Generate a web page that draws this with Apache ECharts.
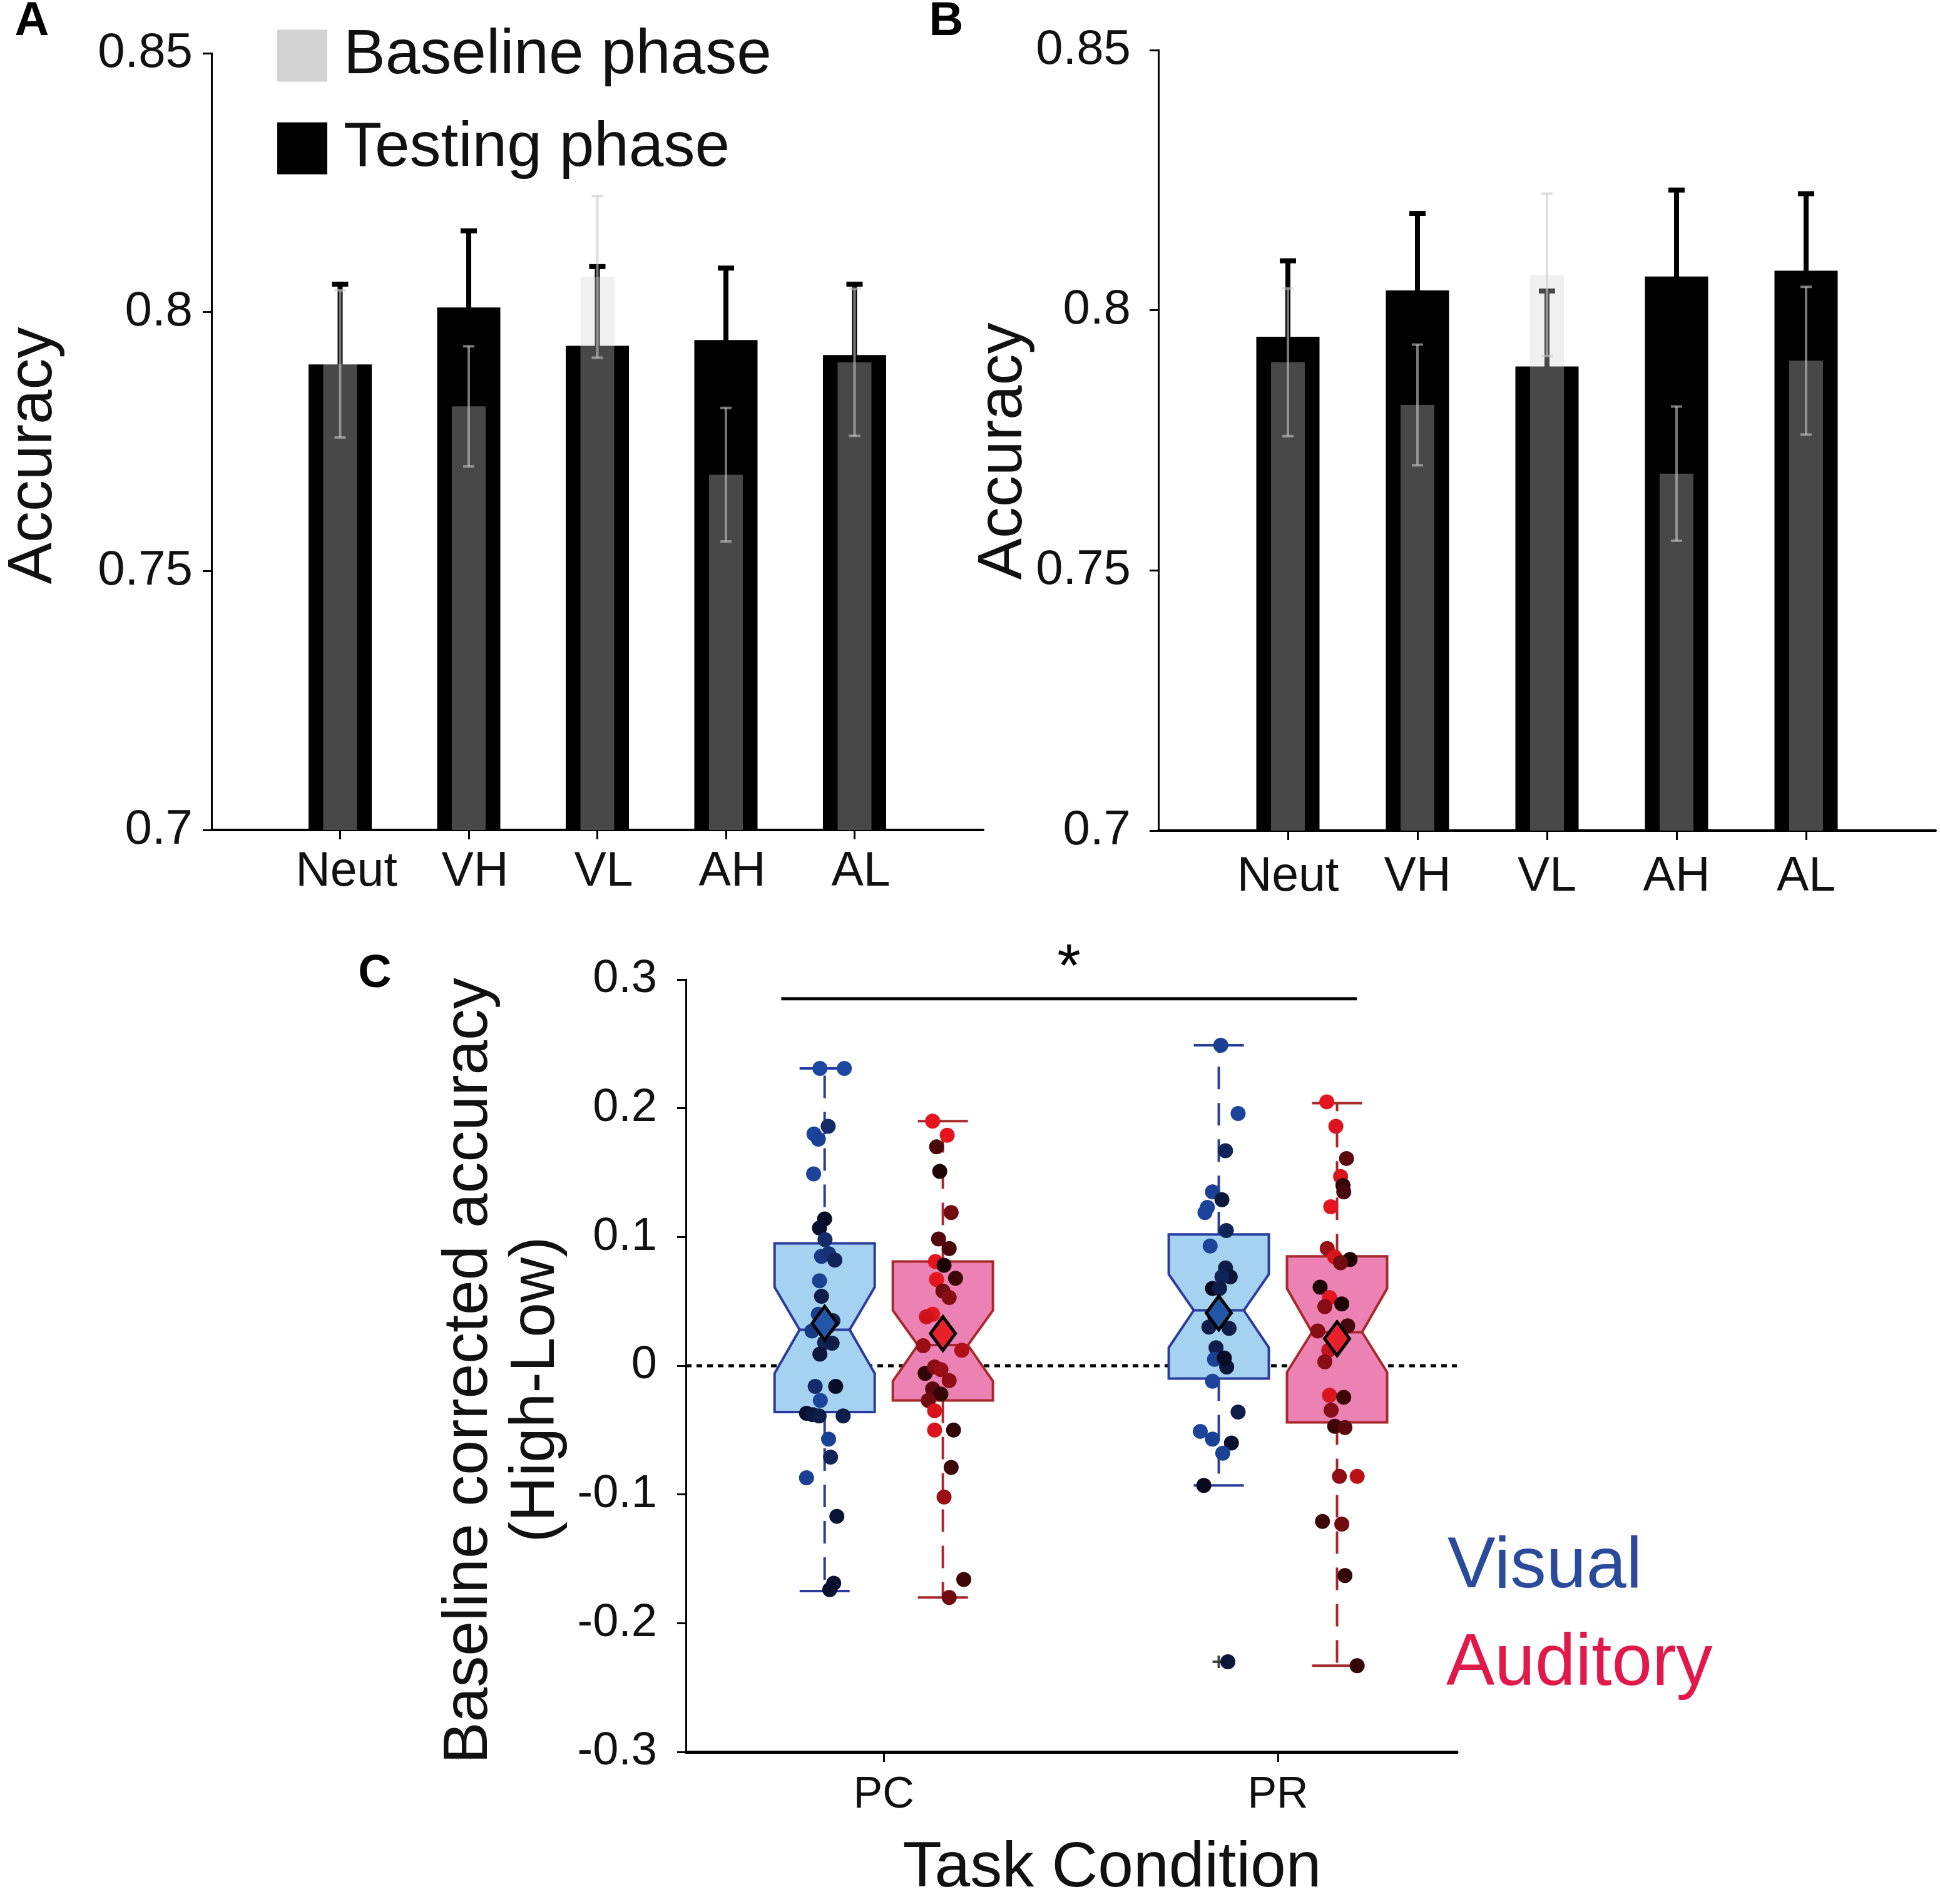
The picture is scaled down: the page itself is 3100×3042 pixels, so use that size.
<!DOCTYPE html>
<html><head><meta charset="utf-8">
<script src="https://cdn.jsdelivr.net/npm/echarts@6/dist/echarts.min.js"></script>
<style>html,body{margin:0;padding:0;background:#fff}#c{width:3100px;height:3042px}</style>
</head><body><div id="c"></div>
<script>
// ---------- Panels A & B data ----------
const conditions = ['Neut', 'VH', 'VL', 'AH', 'AL'];
const baselineMean = [0.7900, 0.7818, 0.8068, 0.7686, 0.7903];
const baselineErr = [0.0142, 0.0116, 0.0156, 0.0129, 0.0142];
const testingMeanA = [0.7899, 0.8009, 0.7935, 0.7946, 0.7917];
const testingErrA = [0.0155, 0.0148, 0.0153, 0.0139, 0.0137];
const testingMeanB = [0.7949, 0.8038, 0.7892, 0.8065, 0.8076];
const testingErrB = [0.0146, 0.0148, 0.0145, 0.0166, 0.0148];
const accuracyTicks = [0.7, 0.75, 0.8, 0.85];

// ---------- Panel C data ----------
const taskConditions = ['PC', 'PR'];
const modalities = ['Visual', 'Auditory'];
// box order: Visual-PC, Auditory-PC, Visual-PR, Auditory-PR
const whiskerLow = [-0.175, -0.180, -0.093, -0.233];
const quartile1 = [-0.036, -0.027, -0.010, -0.044];
const notchLow = [-0.006, -0.012, 0.014, -0.005];
const medians = [0.028, 0.016, 0.043, 0.026];
const notchHigh = [0.061, 0.043, 0.071, 0.060];
const quartile3 = [0.095, 0.081, 0.102, 0.085];
const whiskerHigh = [0.231, 0.190, 0.249, 0.204];
const boxMeans = [0.033, 0.025, 0.041, 0.021];
const outlierBox = [2];
const outlierValue = [-0.230];

const visualPC = [0.231,0.231,0.186,0.180,0.176,0.149,0.114,0.107,0.098,0.085,0.087,0.082,0.066,0.054,0.040,0.035,0.030,0.027,0.018,0.0175,0.009,-0.016,-0.016,-0.027,-0.037,-0.038,-0.039,-0.039,-0.057,-0.071,-0.087,-0.117,-0.169,-0.174];
const jitterVisualPC = [-0.012,0.050,0.009,-0.027,-0.016,-0.028,0.0,-0.013,0.001,-0.008,0.010,0.026,-0.013,-0.008,-0.016,0.021,0.007,-0.032,0.0,0.019,-0.012,-0.024,0.028,-0.011,-0.046,-0.030,-0.014,0.047,0.010,0.015,-0.046,0.031,0.023,0.013];
const shadeVisualPC = [0.1,0.1,0.5,0.15,0.2,0.15,0.95,0.9,0.5,0.3,0.4,0.6,0.2,0.7,0.25,0.6,0.5,0.3,0.6,0.7,0.8,0.5,0.95,0.15,0.9,0.8,0.7,0.7,0.2,0.6,0.2,0.85,0.85,0.9];

const auditoryPC = [0.190,0.179,0.170,0.151,0.119,0.0985,0.091,0.081,0.078,0.068,0.067,0.058,0.053,0.040,0.038,0.012,0.0155,-0.006,-0.001,-0.003,-0.0115,-0.018,-0.022,-0.027,-0.035,-0.050,-0.050,-0.079,-0.102,-0.166,-0.180];
const jitterAuditoryPC = [-0.026,0.011,-0.016,-0.008,0.021,-0.011,0.016,-0.019,0.003,0.032,-0.016,0.0,0.016,-0.026,-0.042,0.048,-0.050,-0.045,-0.021,-0.005,0.016,-0.026,-0.005,-0.037,-0.021,-0.021,0.027,0.021,0.003,0.053,0.016];
const shadeAuditoryPC = [0.05,0.05,0.8,1.0,0.6,0.75,0.8,0.05,1.0,0.85,0.05,0.6,0.5,0.05,0.15,0.3,0.4,0.9,0.5,0.4,0.45,0.7,0.9,0.6,0.1,0.1,0.9,0.85,0.4,0.85,0.6];

const visualPR = [0.249,0.196,0.167,0.135,0.129,0.123,0.119,0.105,0.093,0.076,0.069,0.069,0.060,0.060,0.038,0.029,0.030,0.014,0.005,-0.001,0.006,-0.012,-0.036,-0.051,-0.057,-0.060,-0.068,-0.093,-0.230];
const jitterVisualPR = [0.005,0.049,0.017,-0.016,0.008,-0.029,-0.035,0.019,-0.022,0.017,0.029,0.008,-0.016,0.002,-0.010,0.026,-0.025,-0.007,-0.011,0.020,0.014,-0.016,0.049,-0.047,-0.016,0.032,0.010,-0.038,0.023];
const shadeVisualPR = [0.2,0.15,0.6,0.2,0.8,0.15,0.15,0.6,0.15,0.7,0.8,0.6,1.0,0.7,0.7,0.7,0.7,0.7,0.2,0.8,0.95,0.15,0.7,0.15,0.2,0.9,0.2,1.0,0.8];

const auditoryPR = [0.205,0.186,0.161,0.147,0.140,0.135,0.1235,0.091,0.0845,0.0825,0.080,0.061,0.053,0.048,0.046,0.031,0.027,0.012,0.003,-0.023,-0.0245,-0.0345,-0.047,-0.048,-0.086,-0.086,-0.121,-0.123,-0.163,-0.233];
const jitterAuditoryPR = [-0.026,-0.003,0.024,0.009,0.015,0.017,-0.016,-0.025,-0.006,0.033,0.009,-0.043,-0.019,0.012,-0.031,0.027,-0.049,-0.021,-0.031,-0.019,0.017,-0.015,-0.006,0.020,0.006,0.051,-0.037,0.012,0.020,0.051];
const shadeAuditoryPR = [0.05,0.1,0.7,0.1,0.9,0.8,0.05,0.4,0.1,1.0,0.6,1.0,0.05,1.0,0.5,0.8,0.5,0.2,0.5,0.1,0.85,0.5,0.85,0.7,0.45,0.25,0.85,0.6,0.9,0.9];

const sigBarX = [0.74, 2.2];
const sigBarY = 0.285;
const sigLabel = '*';

// ---------- styling ----------
const FONT = "'Liberation Sans', Arial, sans-serif";
const GROUP_OFFSET = 0.15;
const BOX_W = 0.254;
const VIS = {fill: '#a6d2f2', line: '#2a3c9c', dot: [31, 79, 176], dark: [8, 8, 30], mean: '#2257a8'};
const AUD = {fill: '#ec82b4', line: '#a8282c', dot: [238, 22, 32], dark: [30, 3, 5], mean: '#e8202a'};

function mix(a, b, t) {
  const c = a.map((v, i) => Math.round(v + (b[i] - v) * t));
  return 'rgb(' + c.join(',') + ')';
}

function errRender(capPx, lw, color) {
  return function (params, api) {
    const x = api.value(0), m = api.value(1), e = api.value(2);
    const top = api.coord([x, m + e]), bot = api.coord([x, m - e]);
    const st = {stroke: color, lineWidth: lw};
    return {type: 'group', children: [
      {type: 'line', shape: {x1: top[0], y1: top[1], x2: bot[0], y2: bot[1]}, style: st},
      {type: 'line', shape: {x1: top[0] - capPx / 2, y1: top[1], x2: top[0] + capPx / 2, y2: top[1]}, style: st},
      {type: 'line', shape: {x1: bot[0] - capPx / 2, y1: bot[1], x2: bot[0] + capPx / 2, y2: bot[1]}, style: st}
    ]};
  };
}

function renderBox(params, api) {
  const x = api.value(0);
  const lo = api.value(1), q1 = api.value(2), nlo = api.value(3), med = api.value(4),
        nhi = api.value(5), q3 = api.value(6), hi = api.value(7), g = api.value(8);
  const col = g === 0 ? VIS : AUD;
  const hw = BOX_W / 2, inset = BOX_W / 4, cw = BOX_W / 4;
  const P = (a, b) => api.coord([a, b]);
  const L = x - hw, R = x + hw;
  const pts = [P(L, q3), P(R, q3), P(R, nhi), P(R - inset, med), P(R, nlo), P(R, q1),
               P(L, q1), P(L, nlo), P(L + inset, med), P(L, nhi)];
  const dash = {stroke: col.line, lineWidth: 4, lineDash: [36, 22]};
  const solid = {stroke: col.line, lineWidth: 4};
  const ln = (a, b, st) => ({type: 'line', shape: {x1: a[0], y1: a[1], x2: b[0], y2: b[1]}, style: st});
  return {type: 'group', children: [
    ln(P(x, q3), P(x, hi), dash),
    ln(P(x, q1), P(x, lo), dash),
    ln(P(x - cw, hi), P(x + cw, hi), solid),
    ln(P(x - cw, lo), P(x + cw, lo), solid),
    {type: 'polygon', shape: {points: pts}, style: {fill: col.fill, stroke: col.line, lineWidth: 4}},
    ln(P(L + inset, med), P(R - inset, med), solid)
  ]};
}

// ---------- build series data ----------
const xs = conditions.map((c, i) => i + 1);
const boxX = i => (Math.floor(i / 2) + 1) + ((i % 2) === 0 ? -GROUP_OFFSET : GROUP_OFFSET);
const boxData = [0, 1, 2, 3].map(i => [boxX(i), whiskerLow[i], quartile1[i], notchLow[i], medians[i],
  notchHigh[i], quartile3[i], whiskerHigh[i], i % 2]);
const dotGroups = [
  [visualPC, jitterVisualPC, shadeVisualPC, 0],
  [auditoryPC, jitterAuditoryPC, shadeAuditoryPC, 1],
  [visualPR, jitterVisualPR, shadeVisualPR, 2],
  [auditoryPR, jitterAuditoryPR, shadeAuditoryPR, 3]
];
const dotData = [];
dotGroups.forEach(([vals, jit, sh, b]) => {
  vals.forEach((v, k) => dotData.push([boxX(b) + jit[k], v, sh[k], b % 2]));
});
const meanData = boxMeans.map((m, i) => ({value: [boxX(i), m], itemStyle: {color: i % 2 === 0 ? VIS.mean : AUD.mean}}));
const outlierData = outlierBox.map((b, k) => [boxX(b), outlierValue[k]]);

function barPanel(xMain, xBase, yIdx, tMean, tErr) {
  return [
    {type: 'bar', name: 'Testing phase', xAxisIndex: xMain, yAxisIndex: yIdx, barWidth: 101, z: 2,
     itemStyle: {color: '#000'}, data: xs.map((x, i) => [x, tMean[i]])},
    {type: 'custom', xAxisIndex: xMain, yAxisIndex: yIdx, renderItem: errRender(26, 8, '#000'), z: 3,
     data: xs.map((x, i) => [x, tMean[i], tErr[i]]), encode: {x: 0, y: 1}},
    {type: 'bar', name: 'Baseline phase', xAxisIndex: xBase, yAxisIndex: yIdx, barWidth: 54, z: 4,
     itemStyle: {color: 'rgba(211,211,211,0.34)'}, data: xs.map((x, i) => [x, baselineMean[i]])},
    {type: 'custom', xAxisIndex: xBase, yAxisIndex: yIdx, renderItem: errRender(18, 4, 'rgba(200,200,200,0.6)'), z: 5,
     data: xs.map((x, i) => [x, baselineMean[i], baselineErr[i]]), encode: {x: 0, y: 1}}
  ];
}

function catAxis(grid, margin, show, padLeft) {
  return {
    type: 'value', gridIndex: grid, min: 0, max: 6, show: show,
    splitLine: {show: false},
    axisLine: {show: true, onZero: false, lineStyle: {color: '#000', width: 4}},
    axisTick: {show: true, customValues: xs, length: 15, lineStyle: {color: '#000', width: 3}},
    axisLabel: {show: true, customValues: xs, margin: margin, fontSize: 77, color: '#111', fontFamily: FONT,
      padding: [0, 0, 0, padLeft],
      formatter: v => conditions[Math.round(v) - 1] || ''}
  };
}
function accAxis(grid, margin) {
  return {
    type: 'value', gridIndex: grid, min: 0.7, max: 0.85, interval: 0.05,
    splitLine: {show: false},
    axisLine: {show: true, onZero: false, lineStyle: {color: '#000', width: 3}},
    axisTick: {show: true, length: 14, lineStyle: {color: '#000', width: 3}},
    axisLabel: {margin: margin, fontSize: 78, color: '#111', fontFamily: FONT,
      formatter: v => { const t = accuracyTicks.find(a => Math.abs(a - v) < 1e-6); return t === undefined ? '' : String(t); }}
  };
}

const txt = (text, x, y, size, color, opts = {}) => ({
  type: 'text', x: x, y: y, rotation: opts.rotation || 0, z: 100,
  style: {text: text, fill: color, font: (opts.weight || 'normal') + ' ' + size + 'px ' + FONT,
    align: opts.align || 'center', verticalAlign: 'middle',
    textAlign: opts.align || 'center', textVerticalAlign: 'middle'}
});

const option = {
  animation: false,
  backgroundColor: '#fff',
  textStyle: {fontFamily: FONT},
  grid: [
    {left: 338, top: 85, width: 1233, height: 1241},
    {left: 1851, top: 80, width: 1242, height: 1247},
    {left: 1096, top: 1565, width: 1232, height: 1234}
  ],
  legend: {
    left: 438, top: 34, orient: 'vertical', itemWidth: 80, itemHeight: 83, itemGap: 48,
    icon: 'rect', selectedMode: false,
    textStyle: {fontSize: 100, color: '#111', fontFamily: FONT, lineHeight: 100, padding: [0, 0, 0, 21]},
    data: [
      {name: 'Baseline phase', itemStyle: {color: '#d3d3d3', opacity: 1}},
      {name: 'Testing phase', itemStyle: {color: '#000'}}
    ]
  },
  xAxis: [
    catAxis(0, 29, true, 20), catAxis(0, 29, false, 0),
    catAxis(1, 36, true, 0), catAxis(1, 36, false, 0),
    {
      type: 'value', gridIndex: 2, min: 0.498, max: 2.454,
      splitLine: {show: false},
      axisLine: {show: true, onZero: false, lineStyle: {color: '#000', width: 5}},
      axisTick: {show: true, customValues: [1, 2], length: 16, lineStyle: {color: '#000', width: 3}},
      axisLabel: {show: true, customValues: [1, 2], margin: 35, fontSize: 70, color: '#111', fontFamily: FONT,
        formatter: v => taskConditions[Math.round(v) - 1] || ''}
    }
  ],
  yAxis: [
    accAxis(0, 30), accAxis(1, 44),
    {
      type: 'value', gridIndex: 2, min: -0.3, max: 0.3, interval: 0.1,
      splitLine: {show: false},
      axisLine: {show: true, onZero: false, lineStyle: {color: '#000', width: 3}},
      axisTick: {show: true, length: 14, lineStyle: {color: '#000', width: 3}},
      axisLabel: {margin: 46, fontSize: 74, color: '#111', fontFamily: FONT,
        formatter: v => { const r = Math.round(v * 10) / 10; return r === 0 ? '0' : String(r); }}
    }
  ],
  series: [
    ...barPanel(0, 1, 0, testingMeanA, testingErrA),
    ...barPanel(2, 3, 1, testingMeanB, testingErrB),
    {type: 'line', xAxisIndex: 4, yAxisIndex: 2, symbol: 'none', silent: true, z: 2,
     lineStyle: {color: '#000', width: 5, type: [9, 8]}, data: [[0.498, 0], [2.454, 0]]},
    {type: 'custom', xAxisIndex: 4, yAxisIndex: 2, renderItem: renderBox, data: boxData, z: 3,
     encode: {x: 0, y: [1, 7]}},
    {type: 'scatter', xAxisIndex: 4, yAxisIndex: 2, symbolSize: 24, data: dotData, z: 4,
     itemStyle: {opacity: 1, color: p => {
       const g = p.data[3] === 0 ? VIS : AUD; return mix(g.dot, g.dark, p.data[2]); }}},
    {type: 'scatter', xAxisIndex: 4, yAxisIndex: 2, data: outlierData, symbolSize: 20, z: 5,
     symbol: 'path://M4,0h2v4h4v2h-4v4h-2v-4h-4v-2h4z', itemStyle: {color: '#111'}},
    {type: 'scatter', xAxisIndex: 4, yAxisIndex: 2, data: meanData, symbol: 'diamond', symbolSize: [40, 54], z: 6,
     itemStyle: {borderColor: '#000', borderWidth: 5, opacity: 1}},
    {type: 'line', xAxisIndex: 4, yAxisIndex: 2, symbol: 'none', silent: true, z: 6,
     lineStyle: {color: '#000', width: 5}, data: sigBarX.map(x => [x, sigBarY])}
  ],
  graphic: [
    txt('A', 51, 35, 76, '#000', {weight: 'bold'}),
    txt('B', 1512, 35, 76, '#000', {weight: 'bold'}),
    txt('C', 599, 1557, 74, '#000', {weight: 'bold'}),
    txt('Accuracy', 54, 728, 100, '#111', {rotation: Math.PI / 2}),
    txt('Accuracy', 1604, 721, 100, '#111', {rotation: Math.PI / 2}),
    txt('Baseline corrected accuracy', 750, 2190, 100, '#111', {rotation: Math.PI / 2}),
    txt('(High-Low)', 857, 2220, 100, '#111', {rotation: Math.PI / 2}),
    txt('Task Condition', 1777, 2986, 102, '#111'),
    txt(modalities[0], 2313, 2504, 115, '#2a4b9b', {align: 'left'}),
    txt(modalities[1], 2311, 2660, 116, '#e0194a', {align: 'left'})
  ]
};

const chart = echarts.init(document.getElementById('c'), null, {renderer: 'canvas', width: 3100, height: 3042});
chart.setOption(option);
const starPos = chart.convertToPixel({xAxisIndex: 4, yAxisIndex: 2}, [(sigBarX[0] + sigBarX[1]) / 2, sigBarY]);
chart.setOption({graphic: option.graphic.concat([txt(sigLabel, starPos[0], starPos[1] - 47, 96, '#000')])});
</script>
</body></html>
